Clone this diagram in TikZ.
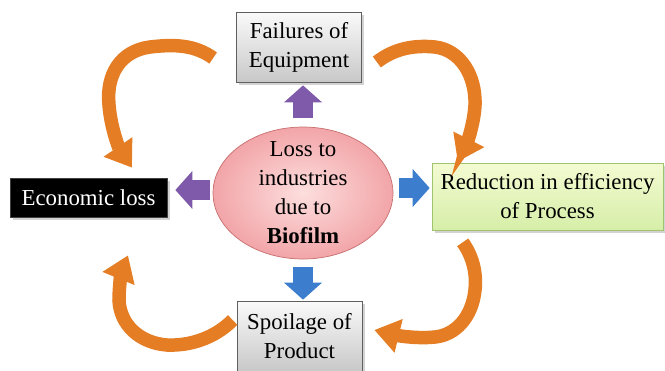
\documentclass[tikz,border=0pt]{standalone}
\usepackage{fontspec}
\setmainfont{Liberation Serif}
\usetikzlibrary{shapes.geometric,arrows.meta,shadows}
\definecolor{boxline}{RGB}{95,95,95}
\definecolor{boxtop}{RGB}{250,250,250}
\definecolor{boxbot}{RGB}{200,200,200}
\definecolor{limetop}{RGB}{244,251,210}
\definecolor{limebot}{RGB}{214,238,168}
\definecolor{limeline}{RGB}{160,195,110}
\definecolor{pinkin}{RGB}{253,222,222}
\definecolor{pinkout}{RGB}{242,165,168}
\definecolor{pinkline}{RGB}{200,110,110}
\definecolor{arrpurple}{RGB}{128,90,170}
\definecolor{arrblue}{RGB}{60,125,205}
\definecolor{arrorange}{RGB}{228,125,35}

\begin{document}
\begin{tikzpicture}[x=0.02cm,y=-0.02cm,
  every node/.style={font=\fontsize{13}{16.5}\selectfont,align=center},
  boxshadow/.style={drop shadow={shadow xshift=1.5pt,shadow yshift=-1.5pt,opacity=0.35}},
  graybox/.style={draw=boxline,top color=boxtop,bottom color=boxbot,
    minimum width=2.5cm,minimum height=1.4cm,boxshadow},
  blackbox/.style={draw=black!75,fill=black,text=white,
    minimum width=3.14cm,minimum height=0.78cm,boxshadow},
  limebox/.style={draw=limeline,top color=limetop,bottom color=limebot,
    minimum width=4.62cm,minimum height=1.34cm,boxshadow},
  centre/.style={ellipse,draw=pinkline,inner color=pinkin,outer color=pinkout,
    minimum width=3.6cm,minimum height=2.64cm,inner xsep=0pt,inner ysep=-0.2cm},
  block/.style={line width=0.4cm,-{Triangle[width=0.74cm,length=0.34cm]}},
  curvy/.style={draw=arrorange,line width=0.27cm,-{Triangle[width=0.66cm,length=0.5cm]}}]
  \useasboundingbox (0,0) rectangle (665,370);
  \clip (0,0) rectangle (665,370);

  % boxes round the centre
  \node[centre] (loss) at (303,193) {Loss to\\industries\\due to\\\textbf{Biofilm}};
  \node[graybox] (fail) at (299,47) {Failures of\\Equipment};
  \node[blackbox] (econ) at (88.5,197.5) {Economic loss};
  \node[limebox] (red) at (547.5,196.5) {Reduction in efficiency\\of Process};
  \node[graybox] (spoil) at (299.5,336) {Spoilage of\\Product};

  % short block arrows out of the centre
  \draw[block,draw=arrpurple,shorten <=0.18cm,shorten >=0.06cm]
    (loss.north) -- (loss.north |- fail.south);
  \draw[block,draw=arrpurple,shorten <=0.06cm,shorten >=0.16cm]
    ([yshift=0.06cm]loss.west) -- ([yshift=0.06cm]loss.west -| econ.east);
  \draw[block,draw=arrblue,shorten <=0.12cm,shorten >=0.04cm]
    ([yshift=0.1cm]loss.east) -- ([yshift=0.1cm]loss.east -| red.west);
  \draw[block,draw=arrblue,shorten <=0.16cm,shorten >=0.02cm]
    (loss.south) -- (loss.south |- spoil.north);

  % curved arrows between the boxes
  \draw[curvy] ([shift={(-23,11)}]fail.west)
    .. controls (195,45) and (175,44) .. (150,47)
    .. controls (120,51) and (106,75) .. (109,105)
    .. controls (111,130) and (120,150) .. ([shift={(43.5,-10)}]econ.north);
  \draw[curvy] ([shift={(15,15)}]fail.east)
    .. controls (395,48) and (415,45) .. (435,47)
    .. controls (460,50) and (476,75) .. (475,105)
    .. controls (474,125) and (466,145) .. ([shift={(26,-1)}]red.north west);
  \draw[curvy] ([shift={(31,12)}]red.south west)
    .. controls (472,255) and (477,272) .. (475,290)
    .. controls (472,318) and (455,335) .. (435,337)
    .. controls (415,339) and (395,335) .. ([shift={(12,-6)}]spoil.east);
  \draw[curvy] ([shift={(-4,-16)}]spoil.west)
    .. controls (215,338) and (190,346) .. (167,345)
    .. controls (140,343) and (120,325) .. (119,300)
    .. controls (119,285) and (122,270) .. ([shift={(39.5,38)}]econ.south);
\end{tikzpicture}
\end{document}
